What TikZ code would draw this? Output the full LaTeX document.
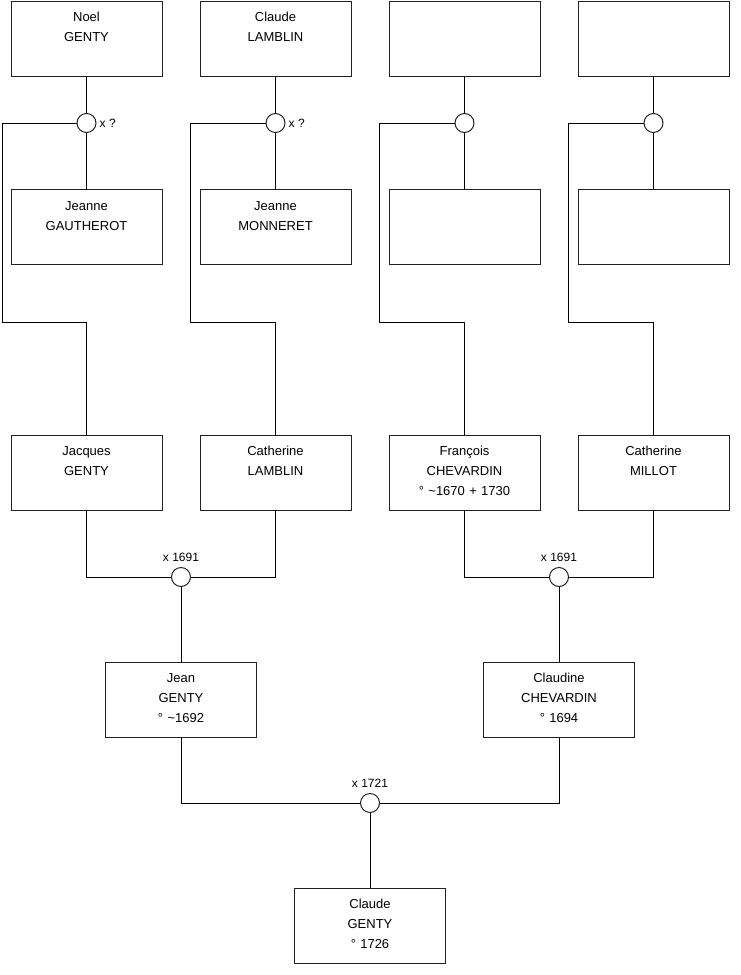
\documentclass[tikz,border=0pt]{standalone}
\usepackage{fontspec}
\setmainfont{Liberation Sans}
\usepackage{xcolor}
\usetikzlibrary{positioning}
\definecolor{boxline}{HTML}{222222}
\tikzset{
  person/.style={draw=boxline, line width=1pt, minimum width=151pt, minimum height=75pt,
                 text width=149pt, align=center, inner sep=0pt,
                 text height=10pt, text depth=44pt, font=\fontsize{13}{20}\selectfont},
  union/.style={draw=boxline, circle, line width=1pt, minimum size=19pt, inner sep=0pt, fill=white},
  wedding/.style={inner sep=1pt, font=\fontsize{12}{14}\selectfont},
  link/.style={line width=1pt}
}

\begin{document}
\begin{tikzpicture}[x=1pt, y=-1pt]
  \useasboundingbox (0,0) rectangle (740,975);
  % grandparents
  \node[person] (noel)    at (86.5,38.5)  {Noel\\GENTY};
  \node[person] (claudeL) at (275.5,38.5) {Claude\\LAMBLIN};
  \node[person] (gpC)     at (464.5,38.5) {};
  \node[person] (gpD)     at (653.5,38.5) {};
  \node[person] (jeanneG) at (86.5,227)   {Jeanne\\GAUTHEROT};
  \node[person] (jeanneM) at (275.5,227)  {Jeanne\\MONNERET};
  \node[person] (gmC)     at (464.5,227)  {};
  \node[person] (gmD)     at (653.5,227)  {};
  \node[union] (uA) at (86.5,123) {};
  \node[union] (uB) at (275.5,123) {};
  \node[union] (uC) at (464.5,123) {};
  \node[union] (uD) at (653.5,123) {};
  \node[wedding, right=2pt of uA] (uAlab) {x ?};
  \node[wedding, right=2pt of uB] (uBlab) {x ?};
  % parents
  \node[person] (jacques)    at (86.5,472.5)  {Jacques\\GENTY};
  \node[person] (catherineL) at (275.5,472.5) {Catherine\\LAMBLIN};
  \node[person] (francois)   at (464.5,472.5) {François\\CHEVARDIN\\° \textasciitilde1670 + 1730};
  \node[person] (catherineM) at (653.5,472.5) {Catherine\\MILLOT};
  \coordinate (railA) at (2.5,322);
  \coordinate (railB) at (190.5,322);
  \coordinate (railC) at (379,322);
  \coordinate (railD) at (568,322);
  \node[union] (uE) at (181,577) {};
  \node[union] (uF) at (559,577) {};
  \node[wedding, above=4pt of uE] (uElab) {x 1691};
  \node[wedding, above=4pt of uF] (uFlab) {x 1691};
  % children
  \node[person] (jean)     at (181,699.5) {Jean\\GENTY\\° \textasciitilde1692};
  \node[person] (claudine) at (559,699.5) {Claudine\\CHEVARDIN\\° 1694};
  \node[union] (uG) at (370,803) {};
  \node[wedding, above=4pt of uG] (uGlab) {x 1721};
  \node[person] (claude) at (370,925.5) {Claude\\GENTY\\° 1726};

  \draw[link] (noel) -- (uA) -- (jeanneG);
  \draw[link] (claudeL) -- (uB) -- (jeanneM);
  \draw[link] (gpC) -- (uC) -- (gmC);
  \draw[link] (gpD) -- (uD) -- (gmD);
  \draw[link] (uA.west) -| (railA) -| (jacques.north);
  \draw[link] (uB.west) -| (railB) -| (catherineL.north);
  \draw[link] (uC.west) -| (railC) -| (francois.north);
  \draw[link] (uD.west) -| (railD) -| (catherineM.north);
  \draw[link] (jacques.south) |- (uE.west);
  \draw[link] (catherineL.south) |- (uE.east);
  \draw[link] (francois.south) |- (uF.west);
  \draw[link] (catherineM.south) |- (uF.east);
  \draw[link] (uE) -- (jean);
  \draw[link] (uF) -- (claudine);
  \draw[link] (jean.south) |- (uG.west);
  \draw[link] (claudine.south) |- (uG.east);
  \draw[link] (uG) -- (claude);
\end{tikzpicture}
\end{document}
